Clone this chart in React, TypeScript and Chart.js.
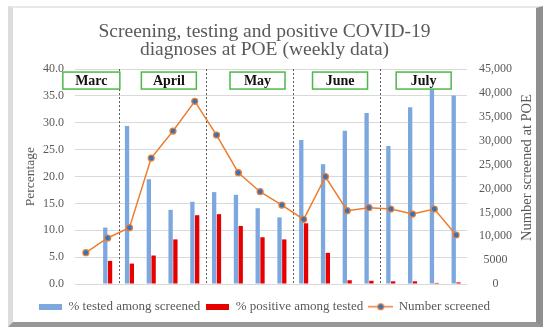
import React, { useEffect, useRef } from "react";
import { Chart, registerables } from "chart.js";

Chart.register(...registerables);

// ---- data ----
const weeks = [
  "Week 1", "Week 2", "Week 3", "Week 4", "Week 5", "Week 6",
  "Week 7", "Week 8", "Week 9", "Week 10", "Week 11", "Week 12",
  "Week 13", "Week 14", "Week 15", "Week 16", "Week 17", "Week 18",
];
const testedPct = [null, 10.5, 29.4, 19.5, 13.8, 15.3, 17.1, 16.6, 14.1, 12.4, 26.8, 22.3, 28.5, 31.8, 25.7, 32.9, 36.2, 35.1];
const positivePct = [null, 4.3, 3.8, 5.3, 8.3, 12.8, 13.0, 10.8, 8.7, 8.3, 11.3, 5.8, 0.7, 0.6, 0.5, 0.5, 0.2, 0.3];
const numberScreened = [6550, 9630, 11790, 26370, 32020, 38240, 31190, 23300, 19320, 16530, 13540, 22460, 15350, 15970, 15700, 14650, 15700, 10260];

const seriesLabels = ["% tested among screened", "% positive among tested", "Number screened"];
const titleLines = ["Screening, testing and positive COVID-19", "diagnoses at POE (weekly data)"];
const leftAxisTitle = "Percentage";
const rightAxisTitle = "Number screened at POE";
const rightTickLabels = ["0", "5000", "10,000", "15,000", "20,000", "25,000", "30,000", "35,000", "40,000", "45,000"];

const monthLabels = ["Marc", "April", "May", "June", "July"];
// annotation placement (in category steps from the first week)
const monthBoxAt = [0.25, 3.81, 7.88, 11.67, 15.51];
const monthBreaksAfter = [1, 5, 9, 13];

const FONT = "'Liberation Serif', 'Times New Roman', serif";
const TEXT = "#595959";
const BLUE = "#7DA7DF";
const RED = "#E60000";
const ORANGE = "#ED7D31";
const MARKER = "#2E74C0";

function rectSwatch(color: string, w: number, h: number) {
  const c = document.createElement("canvas");
  c.width = w;
  c.height = h;
  const g = c.getContext("2d")!;
  g.fillStyle = color;
  g.fillRect(0, 0, w, h);
  return c;
}

function lineSwatch() {
  const c = document.createElement("canvas");
  c.width = 25;
  c.height = 9;
  const g = c.getContext("2d")!;
  g.strokeStyle = ORANGE;
  g.lineWidth = 1.5;
  g.beginPath();
  g.moveTo(0, 4.5);
  g.lineTo(25, 4.5);
  g.stroke();
  g.beginPath();
  g.arc(12.5, 4.5, 3, 0, Math.PI * 2);
  g.fillStyle = MARKER;
  g.fill();
  g.lineWidth = 1.2;
  g.stroke();
  return c;
}

const monthPlugin = {
  id: "monthMarks",
  beforeDatasetsDraw(chart: any) {
    const { ctx, chartArea, scales } = chart;
    const x = scales.x;
    ctx.save();
    ctx.strokeStyle = "#595959";
    ctx.lineWidth = 1;
    ctx.setLineDash([2, 2]);
    monthBreaksAfter.forEach((i) => {
      const px = Math.round((x.getPixelForValue(i) + x.getPixelForValue(i + 1)) / 2) + 0.5;
      ctx.beginPath();
      ctx.moveTo(px, chartArea.top);
      ctx.lineTo(px, chartArea.bottom);
      ctx.stroke();
    });
    ctx.restore();
  },
  afterDraw(chart: any) {
    const { ctx, chartArea, scales } = chart;
    const x = scales.x;
    const step = x.getPixelForValue(1) - x.getPixelForValue(0);
    ctx.save();
    ctx.font = `bold 14px ${FONT}`;
    ctx.textAlign = "center";
    ctx.textBaseline = "middle";
    monthLabels.forEach((m, k) => {
      const cx = x.getPixelForValue(0) + monthBoxAt[k] * step;
      const w = k === 0 ? 57 : 55;
      const h = 17;
      const top = chartArea.top + 3;
      ctx.fillStyle = "#ffffff";
      ctx.fillRect(cx - w / 2, top, w, h);
      ctx.strokeStyle = "#4DB848";
      ctx.lineWidth = 1.5;
      ctx.strokeRect(cx - w / 2, top, w, h);
      ctx.fillStyle = "#111111";
      ctx.fillText(m, cx, top + h / 2 + 1);
    });
    ctx.restore();

    // right axis title, reading bottom-to-top
    ctx.save();
    ctx.font = `14.5px ${FONT}`;
    ctx.fillStyle = TEXT;
    ctx.textAlign = "center";
    ctx.textBaseline = "middle";
    ctx.translate(chart.width - 9, (chartArea.top + chartArea.bottom) / 2 - 9);
    ctx.rotate(-Math.PI / 2);
    ctx.fillText(rightAxisTitle, 0, 0);
    ctx.restore();
  },
};

export default function App() {
  const ref = useRef<HTMLCanvasElement | null>(null);

  useEffect(() => {
    if (!ref.current) return;
    const swatches = [rectSwatch(BLUE, 23, 6), rectSwatch(RED, 23, 6), lineSwatch()];
    const chart = new Chart(ref.current, {
      type: "bar",
      data: {
        labels: weeks,
        datasets: [
          {
            type: "bar",
            label: seriesLabels[0],
            data: testedPct,
            backgroundColor: BLUE,
            yAxisID: "y",
            categoryPercentage: 0.44,
            barPercentage: 0.9,
            order: 1,
          },
          {
            type: "bar",
            label: seriesLabels[1],
            data: positivePct,
            backgroundColor: RED,
            yAxisID: "y",
            categoryPercentage: 0.44,
            barPercentage: 0.9,
            order: 1,
          },
          {
            type: "line",
            label: seriesLabels[2],
            data: numberScreened,
            yAxisID: "y1",
            borderColor: ORANGE,
            borderWidth: 1.5,
            pointRadius: 3,
            pointBackgroundColor: MARKER,
            pointBorderColor: ORANGE,
            pointBorderWidth: 1.2,
            tension: 0,
            order: 0,
          },
        ] as any,
      },
      options: {
        animation: false,
        responsive: false,
        maintainAspectRatio: false,
        layout: { padding: { left: 0, top: 0, right: 20, bottom: -1.2 } },
        plugins: {
          tooltip: { enabled: false },
          title: {
            display: true,
            text: titleLines,
            color: TEXT,
            font: { family: FONT, size: 19.5, weight: "normal", lineHeight: 0.94 },
            padding: { top: 14.5, bottom: 9.9 },
          },
          legend: {
            position: "bottom",
            title: { display: true, text: "", font: { size: 1 }, padding: { top: 4.5, bottom: 4.5 } },
            labels: {
              usePointStyle: true,
              pointStyleWidth: 23,
              boxHeight: 6,
              color: TEXT,
              padding: 6,
              font: { family: FONT, size: 13 },
              generateLabels: (c: any) =>
                c.data.datasets.map((ds: any, i: number) => ({
                  text: ds.label,
                  pointStyle: swatches[i],
                  fillStyle: "transparent",
                  strokeStyle: "transparent",
                  lineWidth: 0,
                  fontColor: TEXT,
                  hidden: false,
                  datasetIndex: i,
                })),
            },
          },
        },
        scales: {
          x: { display: false, offset: true, grid: { display: false } },
          y: {
            position: "left",
            min: 0,
            max: 40,
            ticks: {
              stepSize: 5,
              padding: 11,
              color: TEXT,
              font: { family: FONT, size: 12 },
              callback: (v: any) => Number(v).toFixed(1),
            },
            grid: { color: "#D9D9D9", drawTicks: false },
            border: { display: false },
            title: {
              display: true,
              text: leftAxisTitle,
              color: TEXT,
              font: { family: FONT, size: 13.5 },
              padding: { top: 9, bottom: 0 },
            },
            afterFit: (s: any) => {
              s.width = 62;
            },
          },
          y1: {
            position: "right",
            min: 0,
            max: 45000,
            ticks: {
              stepSize: 5000,
              padding: 12,
              crossAlign: "center",
              color: TEXT,
              font: { family: FONT, size: 12 },
              callback: (_v: any, i: number) => rightTickLabels[i],
            },
            grid: { display: false, drawTicks: false },
            border: { display: false },
            title: { display: false },
            afterFit: (s: any) => {
              s.width = 49;
            },
          },
        },
      } as any,
      plugins: [monthPlugin],
    });
    return () => chart.destroy();
  }, []);

  return (
    <div style={{ position: "absolute", left: 0, top: 0, width: 550, height: 333, background: "#ffffff" }}>
      <div
        style={{
          position: "absolute",
          left: 8,
          top: 6,
          width: 523,
          height: 314,
          borderLeft: "5px solid #dcdcdc",
          borderTop: "2px solid #e8e8e8",
          borderRight: "7px solid #8f8f8f",
          borderBottom: "5px solid #979797",
          background: "#ffffff",
        }}
      >
        <canvas ref={ref} width={523} height={314} style={{ display: "block" }} />
      </div>
    </div>
  );
}
